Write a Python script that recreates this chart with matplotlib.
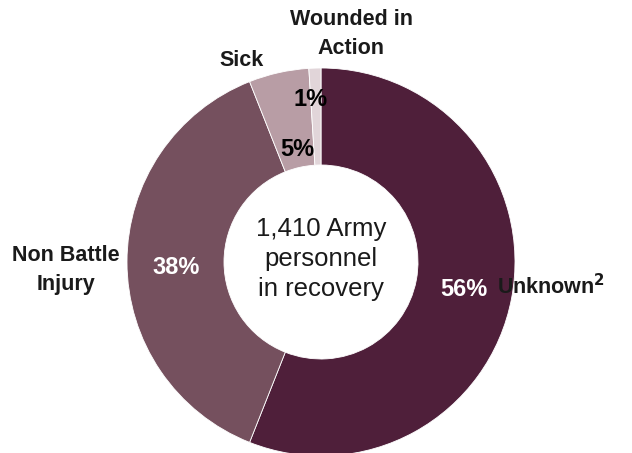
import matplotlib.pyplot as plt

plt.rcParams['font.family'] = ['Liberation Sans', 'DejaVu Sans']

categories = ['Unknown', 'Non Battle Injury', 'Sick', 'Wounded in Action']
shares = [56, 38, 5, 1]
pct_labels = ['56%', '38%', '5%', '1%']
colors = ['#4f1f3a', '#75505e', '#b89da5', '#e1d5d9']

fig = plt.figure(figsize=(6.32, 4.53), dpi=100)
ax = fig.add_axes([0, 0, 1, 1])

cx, cy, r = 321, 453 - 262, 194
wedges, _ = ax.pie(shares, colors=colors, startangle=90, counterclock=False,
                   center=(cx, cy), radius=r,
                   wedgeprops=dict(width=r * 0.5, edgecolor='white', linewidth=0.6))
ax.set_xlim(0, 632)
ax.set_ylim(0, 453)
ax.set_aspect('equal')
ax.axis('off')

# percentage labels in the ring
pct = dict(fontsize=17, fontweight='bold', ha='center', va='center')
ax.text(464, 453 - 289, pct_labels[0], color='white', **pct)
ax.text(176, 453 - 268, pct_labels[1], color='white', **pct)
ax.text(297, 453 - 150, pct_labels[2], color='black', **pct)
ax.text(311, 453 - 100, pct_labels[3], color='black', **pct)

# outside labels
lab = dict(color='#1a1a1a', fontsize=15.5, fontweight='bold', va='center',
           linespacing=1.45)
ax.text(351, 453 - 34, 'Wounded in\nAction', ha='center', **lab)
ax.text(242, 453 - 60, 'Sick', ha='center', **lab)
ax.text(66, 453 - 270, 'Non Battle\nInjury', ha='center', **lab)
ax.text(497, 453 - 287, 'Unknown$^{\\mathbf{2}}$', ha='left', **lab)

# centre text
ax.text(cx, 453 - 259, '1,410 Army\npersonnel\nin recovery', color='#1a1a1a',
        fontsize=18.5, ha='center', va='center', linespacing=1.3)

fig.savefig('out.png', dpi=100)
